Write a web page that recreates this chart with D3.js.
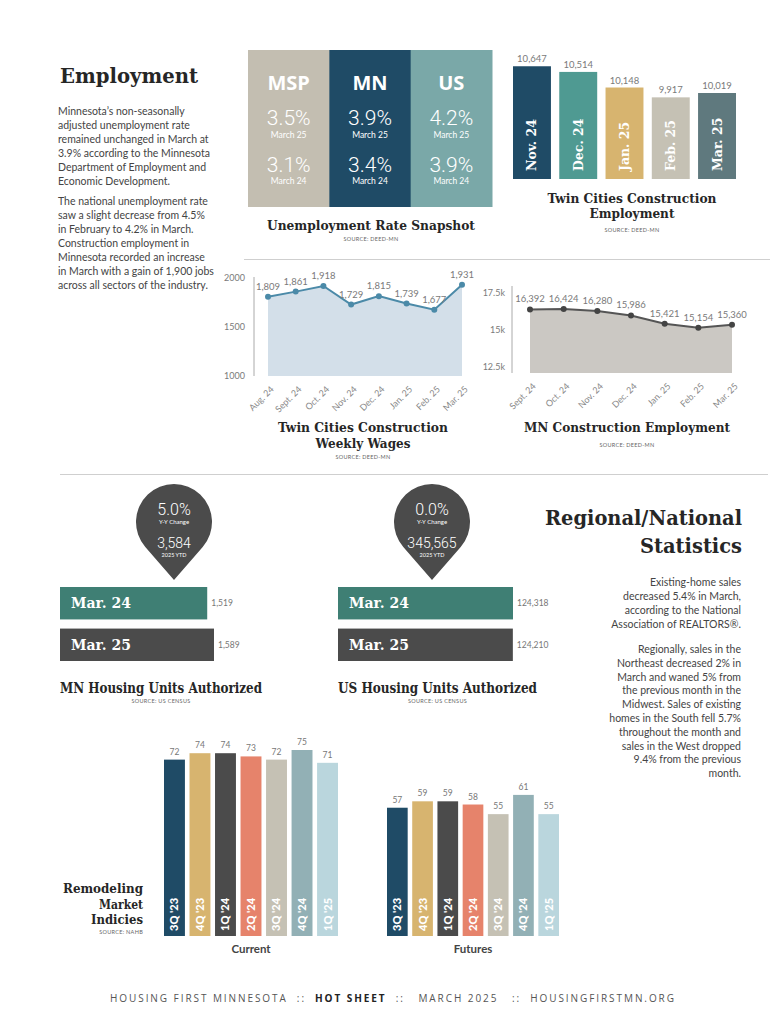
<!DOCTYPE html>
<html><head><meta charset="utf-8">
<script src="https://cdn.jsdelivr.net/npm/d3@7/dist/d3.min.js"></script>
<style>body{margin:0;background:#fff}svg{display:block}</style>
</head><body>
<svg id="c" width="783" height="1024"></svg>
<script>
// ---------------- DATA ----------------
const introPara1 = ["Minnesota’s non-seasonally","adjusted unemployment rate","remained unchanged in March at","3.9% according to the Minnesota","Department of Employment and","Economic Development."];
const introPara2 = ["The national unemployment rate","saw a slight decrease from 4.5%","in February to 4.2% in March.","Construction employment in","Minnesota recorded an increase","in March with a gain of 1,900 jobs","across all sectors of the industry."];

const snapRegions = ["MSP","MN","US"];
const snapMar25 = ["3.5%","3.9%","4.2%"];
const snapMar24 = ["3.1%","3.4%","3.9%"];

const tcEmpMonths = ["Nov. 24","Dec. 24","Jan. 25","Feb. 25","Mar. 25"];
const tcEmpValues = [10647,10514,10148,9917,10019];

const wageMonths = ["Aug. 24","Sept. 24","Oct. 24","Nov. 24","Dec. 24","Jan. 25","Feb. 25","Mar. 25"];
const wageValues = [1809,1861,1918,1729,1815,1739,1677,1931];
const wageTicks = [1000,1500,2000];

const mnEmpMonths = ["Sept. 24","Oct. 24","Nov. 24","Dec. 24","Jan. 25","Feb. 25","Mar. 25"];
const mnEmpValues = [16392,16424,16280,15986,15421,15154,15360];
const mnEmpTicks = [12500,15000,17500];
const mnEmpTickLabels = ["12.5k","15k","17.5k"];

const housingLabels = ["Mar. 24","Mar. 25"];
const mnHousing = [1519,1589];
const usHousing = [124318,124210];
const mnPin = {pct:"5.0%", ytd:"3,584"};
const usPin = {pct:"0.0%", ytd:"345,565"};

const regionalPara1 = ["Existing-home sales","decreased 5.4% in March,","according to the National","Association of REALTORS®."];
const regionalPara2 = ["Regionally, sales in the","Northeast decreased 2% in","March and waned 5% from","the previous month in the","Midwest. Sales of existing","homes in the South fell 5.7%","throughout the month and","sales in the West dropped","9.4% from the previous","month."];

const remodelQuarters = ["3Q '23","4Q '23","1Q '24","2Q '24","3Q '24","4Q '24","1Q '25"];
const remodelCurrent = [72,74,74,73,72,75,71];
const remodelFutures = [57,59,59,58,55,61,55];

const footerParts = [["HOUSING FIRST MINNESOTA  ::  ",400],["HOT SHEET",700],["  ::   MARCH 2025   ::  HOUSINGFIRSTMN.ORG",400]];

// ---------------- STYLE ----------------
const HEAD = "'DejaVu Serif', serif";
const SANS = "Lato, 'Open Sans', sans-serif";
const THIN = "Roboto, 'Open Sans', sans-serif";
const C = {navy:"#1f4b66", teal:"#4f9a92", gold:"#d7b46f", beige:"#c5c1b4", slate:"#5f797e",
  msp:"#c3beb1", us:"#7aa8a8", hteal:"#3f7f74", dark:"#4b4b4b", salmon:"#e6836b",
  grayblue:"#92b0b5", pale:"#bad6dd", text:"#444", head:"#262626", axis:"#7a7a7a"};

const svg = d3.select("#c");
svg.append("rect").attr("width",783).attr("height",1024).attr("fill","#fff");

function heading(x,y,txt,size,width,anchor){
  const t = svg.append("text").attr("x",x).attr("y",y).text(txt)
    .attr("text-anchor",anchor||"start")
    .style("font-family",HEAD).style("font-weight",700).style("font-size",size+"px").attr("fill",C.head);
  if(width) t.attr("textLength",width).attr("lengthAdjust","spacingAndGlyphs");
  return t;
}
function source(x,y,txt){
  svg.append("text").attr("x",x).attr("y",y).attr("text-anchor","middle").text(txt)
    .style("font-family",SANS).style("font-size","5.5px").style("letter-spacing","0.3px").attr("fill","#666");
}
function para(x,y0,lines,anchor,lh){
  svg.append("g").selectAll("text").data(lines).join("text")
    .attr("x",x).attr("y",(d,i)=>y0+i*lh).attr("text-anchor",anchor).text(d=>d)
    .style("font-family",SANS).style("font-size","10.5px").attr("fill",C.text);
}

// ---------------- EMPLOYMENT INTRO ----------------
heading(60,83,"Employment",21,138);
para(58,115,introPara1,"start",13.9);
para(58,205,introPara2,"start",14);

// ---------------- SNAPSHOT ----------------
const snapX = d3.scaleBand().domain(snapRegions).range([248,492]);
const snapColors = [C.msp,C.navy,C.us];
const sg = svg.append("g");
snapRegions.forEach((r,i)=>{
  const x0 = snapX(r), cx = x0 + snapX.bandwidth()/2;
  sg.append("rect").attr("x",x0).attr("y",50).attr("width",snapX.bandwidth()+0.5).attr("height",157).attr("fill",snapColors[i]);
  sg.append("text").attr("x",cx).attr("y",90).attr("text-anchor","middle").text(r)
    .style("font-family","'Open Sans', sans-serif").style("font-weight",700).style("font-size","20px").attr("fill","#fff");
  sg.append("text").attr("x",cx).attr("y",125).attr("text-anchor","middle").text(snapMar25[i])
    .style("font-family",THIN).style("font-weight",300).style("font-size","21px").attr("fill","#fff");
  sg.append("text").attr("x",cx).attr("y",138).attr("text-anchor","middle").text("March 25")
    .style("font-family",SANS).style("font-size","8.5px").attr("fill","#fff");
  sg.append("text").attr("x",cx).attr("y",172).attr("text-anchor","middle").text(snapMar24[i])
    .style("font-family",THIN).style("font-weight",300).style("font-size","21px").attr("fill","#fff");
  sg.append("text").attr("x",cx).attr("y",184).attr("text-anchor","middle").text("March 24")
    .style("font-family",SANS).style("font-size","8.5px").attr("fill","#fff");
});
heading(371,230,"Unemployment Rate Snapshot",13,208,"middle");
source(371,241,"SOURCE: DEED-MN");

// ---------------- TWIN CITIES CONSTRUCTION EMPLOYMENT (bars) ----------------
const tcX = d3.scaleBand().domain(tcEmpMonths).range([513,736]).paddingInner(0.18);
const tcY = d3.scaleLinear().domain([8000,10700]).range([179,64]);
const tcColors = [C.navy,C.teal,C.gold,C.beige,C.slate];
const tg = svg.append("g");
tcEmpMonths.forEach((m,i)=>{
  const v = tcEmpValues[i], x0 = tcX(m), cx = x0+tcX.bandwidth()/2;
  tg.append("rect").attr("x",x0).attr("y",tcY(v)).attr("width",tcX.bandwidth()).attr("height",tcY(8000)-tcY(v)).attr("fill",tcColors[i]);
  tg.append("text").attr("x",cx).attr("y",tcY(v)-4).attr("text-anchor","middle").text(d3.format(",")(v))
    .style("font-family",SANS).style("font-size","9.5px").attr("fill",C.axis);
  tg.append("text").attr("transform",`translate(${cx},171) rotate(-90)`).attr("dy","0.36em").text(m)
    .style("font-family",HEAD).style("font-weight",700).style("font-size","12.5px").attr("fill","#fff");
});
heading(632,203,"Twin Cities Construction",13.5,169,"middle");
heading(632,218,"Employment",13.5,85,"middle");
source(632,232,"SOURCE: DEED-MN");

// separators
svg.append("line").attr("x1",244).attr("x2",770).attr("y1",259.5).attr("y2",259.5).attr("stroke","#cfcfcf");
svg.append("line").attr("x1",60).attr("x2",768).attr("y1",474.5).attr("y2",474.5).attr("stroke","#cfcfcf");

// ---------------- WEEKLY WAGES (area) ----------------
const wData = wageMonths.map((m,i)=>({m,v:wageValues[i]}));
const wx = d3.scalePoint().domain(wageMonths).range([268,462]);
const wy = d3.scaleLinear().domain([1000,2000]).range([376,278]);
const wg = svg.append("g");
wg.append("path").datum(wData).attr("fill","#d3dfe9")
  .attr("d",d3.area().x(d=>wx(d.m)).y0(wy(1000)).y1(d=>wy(d.v)));
wg.append("path").datum(wData).attr("fill","none").attr("stroke","#4b8aa8").attr("stroke-width",2)
  .attr("d",d3.line().x(d=>wx(d.m)).y(d=>wy(d.v)));
wg.selectAll("circle").data(wData).join("circle").attr("cx",d=>wx(d.m)).attr("cy",d=>wy(d.v)).attr("r",3).attr("fill","#4b8aa8");
wg.selectAll("text.v").data(wData).join("text").attr("class","v").attr("x",d=>wx(d.m)).attr("y",d=>wy(d.v)-7)
  .attr("text-anchor","middle").text(d=>d3.format(",")(d.v)).style("font-family",SANS).style("font-size","9.5px").attr("fill",C.axis);
const wAxis = svg.append("g").attr("transform","translate(254,0)")
  .call(d3.axisLeft(wy).tickValues(wageTicks).tickSize(0).tickPadding(9).tickFormat(d3.format("d")));
wAxis.select(".domain").attr("stroke","#aaa").attr("d","M0,277V376");
wAxis.selectAll("text").style("font-family",SANS).style("font-size","9px").attr("fill",C.axis);
const wxAxis = svg.append("g").attr("transform","translate(0,382)").call(d3.axisBottom(wx).tickSize(0).tickPadding(0));
wxAxis.select(".domain").remove();
wxAxis.selectAll("text").attr("text-anchor","end").attr("transform","translate(4,6) rotate(-45)").attr("dy","0.3em")
  .style("font-family",SANS).style("font-size","9px").attr("fill","#888");
heading(363,432,"Twin Cities Construction",13.5,170,"middle");
heading(363,448,"Weekly Wages",13.5,95,"middle");
source(363,459,"SOURCE: DEED-MN");

// ---------------- MN CONSTRUCTION EMPLOYMENT (area) ----------------
const mData = mnEmpMonths.map((m,i)=>({m,v:mnEmpValues[i]}));
const mx = d3.scalePoint().domain(mnEmpMonths).range([530,732]);
const my = d3.scaleLinear().domain([12100,17500]).range([373,293]);
const mg = svg.append("g");
mg.append("path").datum(mData).attr("fill","#cbc8c3")
  .attr("d",d3.area().x(d=>mx(d.m)).y0(my(12100)).y1(d=>my(d.v)));
mg.append("path").datum(mData).attr("fill","none").attr("stroke","#555").attr("stroke-width",2)
  .attr("d",d3.line().x(d=>mx(d.m)).y(d=>my(d.v)));
mg.selectAll("circle").data(mData).join("circle").attr("cx",d=>mx(d.m)).attr("cy",d=>my(d.v)).attr("r",3).attr("fill","#444");
mg.selectAll("text.v").data(mData).join("text").attr("class","v").attr("x",d=>mx(d.m)).attr("y",d=>my(d.v)-7)
  .attr("text-anchor","middle").text(d=>d3.format(",")(d.v)).style("font-family",SANS).style("font-size","9.5px").attr("fill",C.axis);
const mAxis = svg.append("g").attr("transform","translate(512,0)")
  .call(d3.axisLeft(my).tickValues(mnEmpTicks).tickSize(0).tickPadding(7).tickFormat((d,i)=>mnEmpTickLabels[i]));
mAxis.select(".domain").attr("stroke","#aaa").attr("d","M0,286V373");
mAxis.selectAll("text").style("font-family",SANS).style("font-size","9px").attr("fill",C.axis);
const mxAxis = svg.append("g").attr("transform","translate(0,379)").call(d3.axisBottom(mx).tickSize(0).tickPadding(0));
mxAxis.select(".domain").remove();
mxAxis.selectAll("text").attr("text-anchor","end").attr("transform","translate(4,6) rotate(-45)").attr("dy","0.3em")
  .style("font-family",SANS).style("font-size","9px").attr("fill","#888");
heading(627,432,"MN Construction Employment",13.5,206,"middle");
source(627,447,"SOURCE: DEED-MN");

// ---------------- HOUSING UNITS ----------------
function pin(cx,cy,r,tipY,p){
  const d = tipY-cy, phi = Math.acos(r/d);
  const px = r*Math.sin(phi), py = r*Math.cos(phi);
  svg.append("path").attr("fill",C.dark)
    .attr("d",`M${cx},${tipY}L${cx+px},${cy+py}A${r},${r} 0 1 0 ${cx-px},${cy+py}Z`);
  svg.append("text").attr("x",cx).attr("y",515).attr("text-anchor","middle").text(p.pct)
    .style("font-family",THIN).style("font-weight",300).style("font-size","16px").attr("fill","#fff");
  svg.append("text").attr("x",cx).attr("y",524).attr("text-anchor","middle").text("Y-Y Change")
    .style("font-family",SANS).style("font-size","6px").attr("fill","#fff");
  svg.append("text").attr("x",cx).attr("y",548).attr("text-anchor","middle").text(p.ytd)
    .style("font-family",THIN).style("font-weight",300).style("font-size","14px").attr("fill","#fff");
  svg.append("text").attr("x",cx).attr("y",557).attr("text-anchor","middle").text("2025 YTD")
    .style("font-family",SANS).style("font-size","5.5px").attr("fill","#fff");
}
function housing(x0,x1max,maxV,values,pinCx,pinData,title,titleW){
  const sx = d3.scaleLinear().domain([0,maxV]).range([x0,x1max]);
  const sy = d3.scaleBand().domain(housingLabels).range([587,661]).paddingInner(0.22);
  const cols = [C.hteal,C.dark];
  pin(pinCx,522,38,580,pinData);
  housingLabels.forEach((l,i)=>{
    const y = sy(l), h = sy.bandwidth();
    svg.append("rect").attr("x",x0).attr("y",y).attr("width",sx(values[i])-x0).attr("height",h).attr("fill",cols[i]);
    svg.append("text").attr("x",x0+11).attr("y",y+h/2).attr("dy","0.36em").text(l)
      .style("font-family",HEAD).style("font-weight",700).style("font-size","14px").attr("fill","#fff");
    svg.append("text").attr("x",sx(values[i])+4).attr("y",y+h/2).attr("dy","0.36em").text(d3.format(",")(values[i]))
      .style("font-family",SANS).style("font-size","8.5px").attr("fill","#777");
  });
  heading(x0,693,title,14.5,titleW,"start");
  source(x0+titleW/2,703,"SOURCE: US CENSUS");
}
housing(60,214,1589,mnHousing,174,mnPin,"MN Housing Units Authorized",202);
housing(338,513,124318,usHousing,432,usPin,"US Housing Units Authorized",199);

// ---------------- REGIONAL ----------------
heading(742,525,"Regional/National",20,197,"end");
heading(742,553,"Statistics",20,102,"end");
para(741,586,regionalPara1,"end",14);
para(741,653,regionalPara2,"end",13.8);

// ---------------- REMODELING ----------------
const remColors = [C.navy,C.gold,C.dark,C.salmon,C.beige,C.grayblue,C.pale];
const ry = d3.scaleLinear().domain([17,75]).range([936,750]);
function remodel(x0,x1,vals,label){
  const bx = d3.scaleBand().domain(remodelQuarters).range([x0,x1]).paddingInner(0.18);
  const g = svg.append("g");
  remodelQuarters.forEach((q,i)=>{
    const x = bx(q), cx = x+bx.bandwidth()/2;
    g.append("rect").attr("x",x).attr("y",ry(vals[i])).attr("width",bx.bandwidth()).attr("height",ry(17)-ry(vals[i])).attr("fill",remColors[i]);
    g.append("text").attr("x",cx).attr("y",ry(vals[i])-5).attr("text-anchor","middle").text(vals[i])
      .style("font-family",SANS).style("font-size","8.5px").attr("fill","#777");
    g.append("text").attr("transform",`translate(${cx},931) rotate(-90)`).attr("dy","0.36em").text(q)
      .style("font-family",SANS).style("font-weight",900).style("font-size","11px").attr("fill","#fff");
  });
  svg.append("text").attr("x",(x0+x1)/2).attr("y",953).attr("text-anchor","middle").text(label)
    .style("font-family",SANS).style("font-weight",700).style("font-size","11.5px").attr("fill","#444");
}
remodel(164,338,remodelCurrent,"Current");
remodel(387,559,remodelFutures,"Futures");
heading(143,893,"Remodeling",13,80,"end");
heading(143,909,"Market",13,44,"end");
heading(143,924,"Indicies",13,52,"end");
svg.append("text").attr("x",143).attr("y",934).attr("text-anchor","end").text("SOURCE: NAHB")
  .style("font-family",SANS).style("font-size","5.5px").style("letter-spacing","0.3px").attr("fill","#666");

// ---------------- FOOTER ----------------
const ft = svg.append("text").attr("x",393).attr("y",1002).attr("text-anchor","middle")
  .attr("textLength",566).attr("lengthAdjust","spacing")
  .style("white-space","pre").style("font-family","'Open Sans', sans-serif").style("font-size","10px").style("letter-spacing","2px").attr("fill","#555");
footerParts.forEach(p=>ft.append("tspan").text(p[0]).style("font-weight",p[1]).attr("fill",p[1]===700?"#222":"#555"));
</script>
</body></html>
